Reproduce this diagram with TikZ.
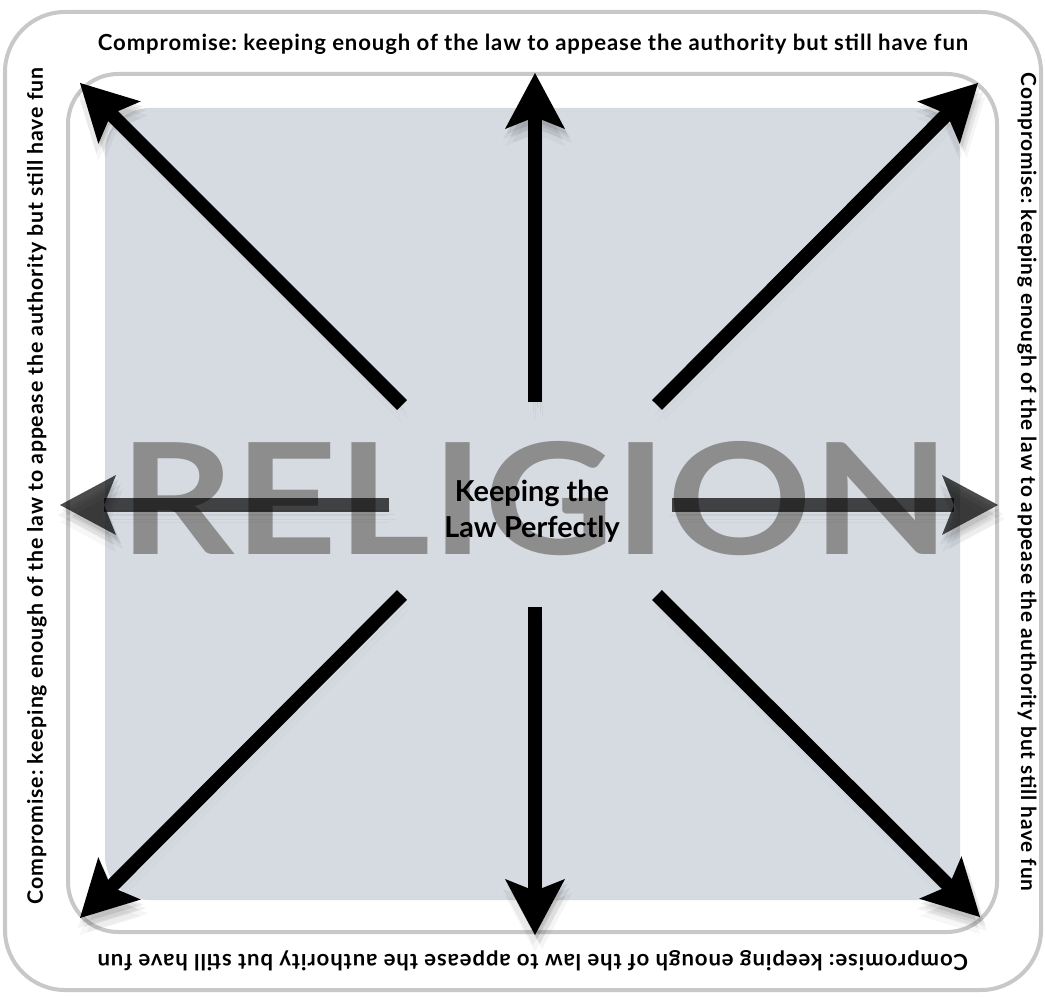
\documentclass[tikz,border=0pt]{standalone}
\usepackage{fontspec}
\setmainfont{Lato}
\usepackage{xcolor}
\usepackage{tikz}
\usetikzlibrary{arrows.meta, positioning}
\definecolor{frameGray}{RGB}{200, 200, 200}
\definecolor{lawBlue}{RGB}{214, 219, 226}
\definecolor{religionGray}{RGB}{141, 141, 141}
\newfontfamily\edgefont[LetterSpace=4]{Lato Bold}
\frenchspacing
% the same line on every side, stretched to the span it has there
\newcommand{\compromise}[1]{\resizebox{#1}{!}{Compromise: keeping enough of the law to appease the authority but still have fun}}

\begin{document}
\begin{tikzpicture}[x=0.025cm, y=-0.025cm,
				frame_line/.style  = {draw=frameGray, line width=0.1cm},
				edge_text/.style   = {font=\edgefont\fontsize{15.5}{18}\selectfont, inner sep=0pt},
				ray_shadow/.style  = {preaction={draw, black, opacity=0.08, transform canvas={shift={(2,5)}}},
					preaction={draw, black, opacity=0.06, transform canvas={shift={(5,9)}}},
					preaction={draw, black, opacity=0.05, transform canvas={shift={(-2,10)}}},
					preaction={draw, black, opacity=0.04, transform canvas={shift={(7,14)}}},
					preaction={draw, black, opacity=0.03, transform canvas={shift={(0,17)}}}},
				ray/.style         = {line width=0.35cm, ray_shadow,
					-{Stealth[length=1.4cm, width=1.5cm, inset=0.3cm, line width=0pt]}},
				ray_faded/.style   = {ray, draw opacity=0.7, fill opacity=0.7}
				]
				\useasboundingbox (0,0) rectangle (1045,997);
				\fill[white] (0,0) rectangle (1045,997);
				
				% frames and the law area
				\draw[frame_line, rounded corners=1.5cm] (5,12) rectangle (1041,990);
				\draw[frame_line, rounded corners=1.25cm, fill=white] (68,74) rectangle (997,932);
				\fill[lawBlue, rounded corners=1.1cm] (105,108) rectangle (960,900);
				
				\node[text=religionGray, inner sep=0pt, font=\bfseries] (religion) at (535,499)
				{\resizebox{20.75cm}{2.825cm}{RELIGION}};
				
				% ends of the rays
				\coordinate (hub_n)  at (535,402);  \coordinate (tip_n)  at (535,73);
				\coordinate (hub_s)  at (535,607);  \coordinate (tip_s)  at (535,935);
				\coordinate (hub_w)  at (389,505);  \coordinate (tip_w)  at (60,505);
				\coordinate (hub_e)  at (672,505);  \coordinate (tip_e)  at (998,505);
				\coordinate (hub_nw) at (402,405);  \coordinate (tip_nw) at (80,83);
				\coordinate (hub_ne) at (657,405);  \coordinate (tip_ne) at (978,83);
				\coordinate (hub_sw) at (402,595);  \coordinate (tip_sw) at (80,918);
				\coordinate (hub_se) at (657,595);  \coordinate (tip_se) at (980,917);
				
				\draw[ray] (hub_n) -- (tip_n);
				\draw[ray] (hub_s) -- (tip_s);
				\draw[ray] (hub_nw) -- (tip_nw);
				\draw[ray] (hub_ne) -- (tip_ne);
				\draw[ray] (hub_sw) -- (tip_sw);
				\draw[ray] (hub_se) -- (tip_se);
				\draw[ray_faded] (hub_w) -- (tip_w);
				\draw[ray_faded] (hub_e) -- (tip_e);
				
				\node[font=\bfseries\fontsize{20.5}{25.6}\selectfont, align=center, inner sep=0pt]
				(keeping) at (532,511) {Keeping the\\Law Perfectly};
				
				\node[edge_text] (top_txt) at (533,44) {\compromise{21.75cm}};
				\node[edge_text, rotate=90] (left_txt) at (37,486) {\compromise{20.9cm}};
				\node[edge_text, rotate=-90] (right_txt) at (1027,482) {\compromise{20.45cm}};
				\node[edge_text, rotate=180] (bottom_txt) at (533,961) {\compromise{21.75cm}};
			\end{tikzpicture}
\end{document}
